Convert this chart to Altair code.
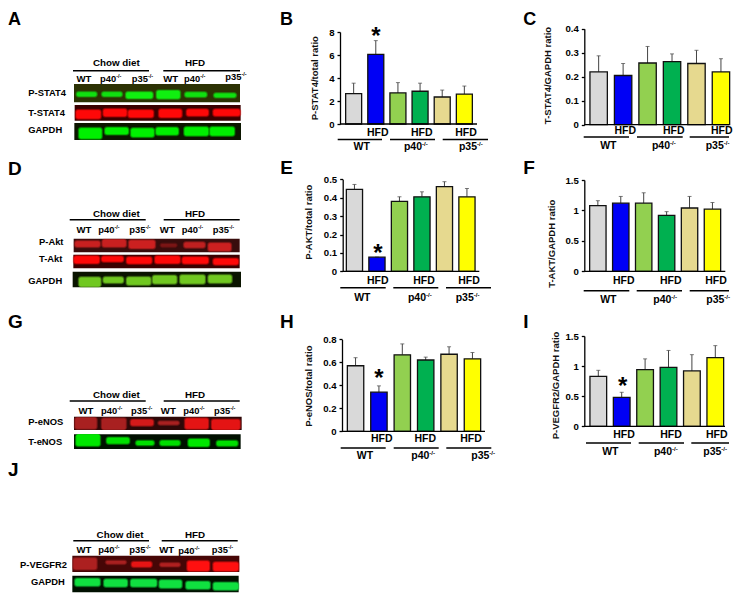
import altair as alt
import pandas as pd

FONT = "Liberation Sans"
groups = ["WT", "WT HFD", "p40-/-", "p40-/- HFD", "p35-/-", "p35-/- HFD"]
bar_colors = ["#d9d9d9", "#0000f5", "#92d050", "#00b050", "#e6d98f", "#ffff00"]

b_vals = [2.65, 6.05, 2.7, 2.85, 2.35, 2.6]
b_tops = [3.55, 7.25, 3.6, 3.55, 2.95, 3.3]
c_vals = [0.22, 0.205, 0.257, 0.263, 0.255, 0.22]
c_tops = [0.287, 0.255, 0.326, 0.295, 0.31, 0.275]
e_vals = [0.445, 0.077, 0.38, 0.405, 0.46, 0.405]
e_tops = [0.472, 0.077, 0.405, 0.432, 0.487, 0.45]
f_vals = [1.08, 1.12, 1.12, 0.92, 1.04, 1.02]
f_tops = [1.16, 1.23, 1.29, 0.98, 1.23, 1.13]
h_vals = [0.57, 0.34, 0.665, 0.62, 0.67, 0.63]
h_tops = [0.64, 0.395, 0.76, 0.645, 0.735, 0.685]
i_vals = [0.83, 0.48, 0.94, 0.98, 0.92, 1.14]
i_tops = [0.93, 0.565, 1.12, 1.26, 1.19, 1.34]

# Blot strips: label, box, background, bands (left, right, centre, thickness, colour)
RED, GRN = "#ff0808", "#00f000"
blot_a = [
    ("P-STAT4", (222, 720, 252, 307), "#2c3204", [(230, 290, 283, 13, "#10e010"), (306, 366, 283, 13, "#10e010"), (378, 458, 286, 19, "#10f010"), (470, 540, 284, 24, "#10f010"), (555, 620, 284, 14, "#10e010"), (642, 708, 286, 12, "#10e010")]),
    ("T-STAT4", (224, 722, 315, 362), "#3a0000", [(228, 302, 343, 26, RED), (310, 380, 338, 22, RED), (385, 460, 341, 22, RED), (477, 545, 340, 24, RED), (560, 625, 338, 20, RED), (640, 720, 338, 20, RED)]),
    ("GAPDH", (223, 723, 369, 420), "#0c1600", [(237, 305, 400, 32, GRN), (315, 385, 393, 20, GRN), (393, 462, 398, 26, GRN), (468, 535, 394, 22, GRN), (553, 625, 394, 26, GRN), (630, 703, 394, 26, GRN)]),
]
blot_d = [
    ("P-Akt", (221, 719, 236, 277), "#380c0c", [(225, 300, 252, 18, "#c82020"), (307, 378, 250, 22, "#c82020"), (387, 465, 253, 24, "#cc2020"), (482, 530, 256, 9, "#7a1515"), (552, 615, 255, 16, "#c02020"), (625, 693, 261, 24, "#cc2020")]),
    ("T-Akt", (220, 719, 284, 325), "#3a0000", [(222, 298, 299, 22, RED), (305, 370, 297, 16, RED), (380, 455, 301, 20, RED), (465, 540, 299, 22, RED), (547, 625, 301, 20, RED), (640, 715, 305, 18, RED)]),
    ("GAPDH", (218, 723, 335, 382), "#0a1400", [(237, 302, 366, 28, "#70c820"), (310, 370, 360, 18, "#70c820"), (380, 452, 363, 24, "#70c820"), (458, 530, 359, 24, "#70c820"), (540, 615, 358, 26, "#70c820"), (625, 695, 357, 24, "#70c820")]),
]
blot_g = [
    ("P-eNOS", (222, 725, 290, 330), "#2e0808", [(225, 290, 310, 34, "#a82020"), (305, 378, 312, 34, "#a82020"), (392, 460, 308, 18, "#d41a1a"), (475, 537, 309, 10, "#a82020"), (555, 625, 311, 32, "#e41414"), (635, 720, 314, 30, "#e41414")]),
    ("T-eNOS", (222, 722, 343, 387), "#001000", [(228, 300, 360, 36, "#00e800"), (320, 388, 362, 18, "#00e000"), (408, 462, 369, 13, "#00e000"), (480, 540, 369, 14, "#00e000"), (565, 628, 368, 22, "#00e800"), (650, 713, 370, 15, "#00e000")]),
]
blot_j = [
    ("P-VEGFR2", (217, 718, 278, 327), "#460606", [(220, 290, 302, 34, "#ac2020"), (318, 378, 298, 9, "#a82020"), (395, 455, 304, 15, "#e81414"), (480, 540, 305, 10, "#b02020"), (562, 628, 309, 30, "#ff1010"), (640, 715, 311, 26, "#ff1010")]),
    ("GAPDH", (217, 716, 338, 388), "#001000", [(225, 300, 358, 22, "#10e040"), (312, 382, 360, 22, "#10e040"), (392, 470, 360, 22, "#10e040"), (478, 545, 363, 24, "#10e040"), (558, 630, 367, 22, "#10e040"), (640, 715, 370, 22, "#10e040")]),
]


def T(text, x, y, size=10.5, align="center", baseline="middle", angle=None):
    kw = {} if angle is None else {"angle": angle}
    return alt.Chart(alt.Data(values=[{}])).mark_text(
        text=text, font=FONT, fontWeight="bold", fontSize=size, align=align,
        baseline=baseline, color="black", **kw
    ).encode(x=alt.value(x), y=alt.value(y))


def L(x0, x1, y, w=1.6):
    return alt.Chart(alt.Data(values=[{}])).mark_rule(color="black", strokeWidth=w).encode(
        x=alt.value(x0), x2=alt.value(x1), y=alt.value(y))


def sup_label(stem, x_left, y, size):
    w = 1.723 * size
    return [T(stem, x_left, y, size, align="left"),
            T("-/-", x_left + w, y - size * 0.3, size * 0.58, align="left")]


def bar_cell(letter, letter_xy, ox, oy, w, h, vals, tops, ticks, title, title_xy,
             axis, bars, hfd, hfd_y, gl, gl_y, names, names_y, star=None, letter_size=19):
    x0, x1, y_top, y_zero = axis
    first_left, last_right, bar_w = bars
    step = (last_right - first_left - bar_w) / 5
    inner = 1 - bar_w / step
    df = pd.DataFrame({"group": groups, "value": vals, "top": tops})
    sx = alt.Scale(domain=groups, range=[first_left - ox, last_right - ox], paddingInner=inner, paddingOuter=0)
    sy = alt.Scale(domain=[0, ticks[-1]], range=[y_zero - oy, y_top - oy], nice=False)
    X = alt.X("group:N", scale=sx, sort=groups, axis=None)
    y_axis = alt.Axis(values=ticks, format="~g", title=title, orient="left", offset=-(x0 - ox),
                      grid=False, domain=True, domainColor="black", domainWidth=1.3, ticks=True, tickColor="black",
                      tickWidth=1.3, tickSize=3, labelPadding=3, labelFont=FONT, labelOverlap=False,
                      labelFontWeight="bold", labelFontSize=9.6, labelColor="black",
                      titleFont=FONT, titleFontWeight="bold", titleFontSize=9.5,
                      titleColor="#111111", titleX=title_xy[0] - x0 + 4, titleY=title_xy[1] - oy)
    base = alt.Chart(df)
    layers = [
        base.mark_rule(color="#444444", strokeWidth=1).encode(x=X, y=alt.Y("value:Q", scale=sy, axis=y_axis), y2="top:Q"),
        base.mark_tick(color="#444444", thickness=1, size=4).encode(x=X, y=alt.Y("top:Q", scale=sy, axis=y_axis)),
        base.mark_bar(stroke="#111111", strokeWidth=1.3, width=bar_w - 1.3).encode(
            x=X, y=alt.Y("value:Q", scale=sy, axis=y_axis),
            color=alt.Color("group:N", scale=alt.Scale(domain=groups, range=bar_colors), legend=None)),
        L(x0 - ox, min(x1 - ox, w), y_zero - oy, 1.3),
    ]
    layers.append(T(letter, letter_xy[0] - ox, letter_xy[1] - oy, letter_size, align="left", baseline="alphabetic"))
    for hx in hfd:
        layers.append(T("HFD", hx - ox, hfd_y - oy))
    for a, b in gl:
        layers.append(L(a - ox, min(b - ox, w), gl_y - oy))
    layers.append(T("WT", names[0] - ox, names_y - oy))
    for stem, cx in zip(["p40", "p35"], names[1:]):
        left = cx - (1.723 * 10.5 + 6) / 2
        layers += sup_label(stem, left - ox, names_y - oy, 10.5)
    if star:
        layers.append(T("*", star[0] - ox, star[1] - oy + 11, 24, baseline="alphabetic"))
    return alt.layer(*layers).properties(width=w, height=h)


def blot_cell(letter, letter_xy, ox, oy, w, h, strips, z_oy, row_labels, heads, head_y, lines, line_y, names, letter_size=19):
    def m(v, off=0):
        return v / 3 + off

    bg, core, mid, outer = [], [], [], []
    for _, (a, b, c, d), col, bands in strips:
        bg.append({"x": m(a) - ox, "x2": m(b) - ox, "y": m(c, z_oy) - oy, "y2": m(d, z_oy) - oy, "c": col})
        for l, r, cy, th, bc in bands:
            for lst, grow in ((outer, 1.3), (mid, 0.6), (core, -0.2)):
                ya = max(m(cy - th / 2, z_oy) - grow, m(c, z_oy))
                yb = min(m(cy + th / 2, z_oy) + grow, m(d, z_oy))
                lst.append({"x": m(l) - grow - ox, "x2": m(r) + grow - ox, "y": ya - oy, "y2": yb - oy, "c": bc})
    enc = dict(x=alt.X("x:Q", scale=None, axis=None), x2="x2:Q",
               y=alt.Y("y:Q", scale=None, axis=None), y2="y2:Q",
               color=alt.Color("c:N", scale=None, legend=None))
    layers = [alt.Chart(pd.DataFrame(bg)).mark_rect().encode(**enc)]
    for rows, op, cr in ((outer, 0.3, 3), (mid, 0.5, 2.5), (core, 1, 2)):
        layers.append(alt.Chart(pd.DataFrame(rows)).mark_rect(opacity=op, cornerRadius=cr).encode(**enc))
    layers.append(T(letter, letter_xy[0] - ox, letter_xy[1] - oy, letter_size, align="left", baseline="alphabetic"))
    for text, x, y in row_labels:
        layers.append(T(text, x - ox, y - oy, 9.4, align="left"))
    for text, x in heads:
        layers.append(T(text, x - ox, head_y - oy, 9.8))
    for a, b in lines:
        layers.append(L(a - ox, b - ox, line_y - oy))
    for stem, x, y in names:
        if stem == "WT":
            layers.append(T(stem, x - ox, y - oy, 9.6))
        else:
            layers += sup_label(stem, x - ox, y - oy, 9.4)
    return alt.layer(*layers).properties(width=w, height=h)


X1, X2, X3 = 8, 270, 509
Y1, Y2, Y3, Y4 = 8, 158, 314, 475
W1, W2, W3 = 262, 235, 224
H1, H2, H3, H4 = 150, 156, 154, 125

A = blot_cell("A", (8, 25), X1, Y1, W1, H1, blot_a, 0,
              [("P-STAT4", 28.3, 93), ("T-STAT4", 28.3, 112.7), ("GAPDH", 28.3, 130.3)],
              [("Chow diet", 116.3), ("HFD", 195)], 63.3, [(73, 149), (163.3, 240)], 70.7,
              [("WT", 84, 78.7), ("p40", 100, 78.7), ("p35", 131.7, 78.7), ("WT", 170.7, 78.7), ("p40", 184, 78.7), ("p35", 225.3, 77.3)], letter_size=18)
D = blot_cell("D", (8, 175), X1, Y2, W1, H2, blot_d, 160,
              [("P-Akt", 39, 242), ("T-Akt", 39, 259.3), ("GAPDH", 28.3, 281.3)],
              [("Chow diet", 116.3), ("HFD", 195)], 214, [(69.7, 145.7), (163.7, 239.7)], 219.7,
              [("WT", 84, 230), ("p40", 98.3, 230), ("p35", 129.3, 230), ("WT", 167.3, 230), ("p40", 181.7, 230), ("p35", 212.7, 230)])
G = blot_cell("G", (8, 328.3), X1, Y3, W1, H3, blot_g, 320,
              [("P-eNOS", 28.3, 421.7), ("T-eNOS", 28.3, 442)],
              [("Chow diet", 116.3), ("HFD", 195)], 395.3, [(69.7, 145.7), (163.7, 239.7)], 401,
              [("WT", 86, 410.7), ("p40", 101, 410.7), ("p35", 131, 410.7), ("WT", 168.3, 410.7), ("p40", 183.3, 410.7), ("p35", 214, 410.7)])
J = blot_cell("J", (8, 483.3), X1, Y4, W1, H4, blot_j, 470,
              [("P-VEGFR2", 20, 571.7), ("GAPDH", 31, 589)],
              [("Chow diet", 120), ("HFD", 195)], 541.7, [(73.3, 149), (161.7, 237.7)], 547.7,
              [("WT", 84, 556.7), ("p40", 98.3, 556.7), ("p35", 129.3, 556.7), ("WT", 166.7, 556.7), ("p40", 178.3, 558.3), ("p35", 211.7, 556.7)])

B = bar_cell("B", (280, 25), X2, Y1, W2, H1, b_vals, b_tops, [0, 2, 4, 6, 8], "P-STAT4/total ratio", (315, 77.7),
             (340, 477, 32, 124), (345, 473, 17.3), [377.7, 421.7, 466], 133,
             [(337.7, 382), (390, 435), (442.7, 488)], 139.5, [361.7, 416, 471], 147, star=(376, 32.7), letter_size=18)
C = bar_cell("C", (527.3, 25), X3, Y1, W3, H1, c_vals, c_tops, [0, 0.1, 0.2, 0.3, 0.4], "T-STAT4/GAPDH ratio", (552.7, 75),
             (588.3, 736.7, 28.7, 124.7), (593.3, 734.3, 18.7), [629.3, 677.7, 725.7], 131,
             [(587.7, 633), (641, 686.7), (693.7, 739.3)], 137, [612.3, 668, 721.7], 146, letter_size=18)
E = bar_cell("E", (280.3, 174), X2, Y2, W2, H2, e_vals, e_tops, [0, 0.1, 0.2, 0.3, 0.4, 0.5], "P-AKT/total ratio", (309.3, 221.7),
             (342.7, 479.3, 179.3, 271.3), (345.7, 475.7, 17.5), [377.7, 424, 469], 280.7,
             [(340.3, 385.7), (393.3, 438.3), (446, 491)], 287.7, [362.3, 420, 467.7], 297.7, star=(378, 250))
F = bar_cell("F", (527.3, 174), X3, Y2, W3, H2, f_vals, f_tops, [0, 0.5, 1, 1.5], "T-AKT/GAPDH ratio", (556, 243.3),
             (588.3, 729.3, 180, 271.3), (593, 725.3, 17.7), [627.7, 674.7, 720], 281,
             [(587.7, 633.3), (640.7, 686), (693.7, 739.3)], 290.7, [612.3, 669.3, 722.3], 300)
H = bar_cell("H", (280, 328.3), X2, Y3, W2, H3, h_vals, h_tops, [0, 0.2, 0.4, 0.6, 0.8], "P-eNOS/total ratio", (309, 385.7),
             (342, 485, 339.3, 431.3), (346.7, 481.3, 17.7), [381.7, 425.3, 471], 439.3,
             [(340.7, 385.7), (393.7, 438.7), (446.3, 491.3)], 448, [365, 423.3, 483.3], 456, star=(379, 374.7))
I = bar_cell("I", (527.3, 328.3), X3, Y3, W3, H3, i_vals, i_tops, [0, 0.5, 1, 1.5], "P-VEGFR2/GAPDH ratio", (560.7, 385),
             (588.3, 729, 336, 426.3), (593.3, 728.3, 18), [628, 675, 720.7], 434.7,
             [(590, 635), (642.7, 688), (695.3, 740.3)], 443, [614.3, 670, 719.3], 452.3, star=(626.7, 382.7))

chart = alt.concat(A, B, C, D, E, F, G, H, I, J, columns=3, spacing=0, bounds="flush").properties(
    padding=0, background="white"
).configure_view(stroke=None)

chart.save("out.html", embed_options={"renderer": "svg", "actions": False})
